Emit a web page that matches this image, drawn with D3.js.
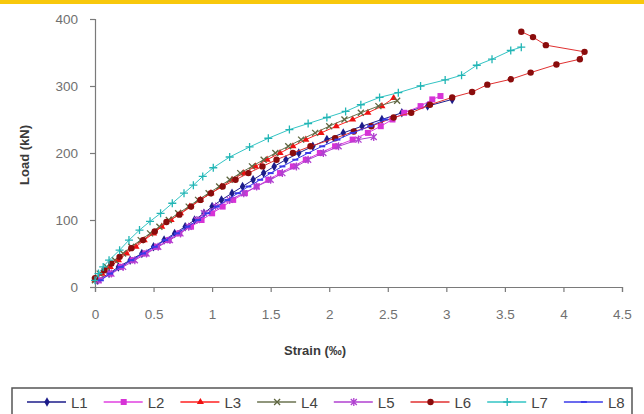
<!DOCTYPE html>
<html>
<head>
<meta charset="utf-8">
<script src="https://cdn.jsdelivr.net/npm/d3@7"></script>
<style>
  body { margin: 0; background: #fff; }
  svg { display: block; font-family: "Liberation Sans", Arial, sans-serif; }
</style>
</head>
<body>
<script>
// series data: [strain (‰), load (kN)]
var L1 = [[0.02,10],[0.12,20],[0.2,30],[0.3,40],[0.4,50],[0.5,60],[0.59,70],[0.68,80],[0.77,90],[0.85,100],[0.93,110],[1.0,120],[1.08,130],[1.17,140],[1.26,150],[1.35,160],[1.44,170],[1.53,180],[1.63,190],[1.74,200],[1.86,210],[1.98,220],[2.12,230],[2.28,240],[2.45,250],[2.62,260],[2.84,270],[3.05,280]];
var L2 = [[0.03,10],[0.13,20],[0.22,30],[0.32,40],[0.43,50],[0.53,60],[0.63,70],[0.72,80],[0.82,90],[0.91,100],[1.0,110],[1.09,120],[1.18,130],[1.28,140],[1.38,150],[1.48,160],[1.58,170],[1.69,180],[1.8,190],[1.92,200],[2.05,210],[2.2,220],[2.33,230],[2.44,240],[2.54,250],[2.64,260],[2.78,270],[2.88,280],[2.95,285]];
var L3 = [[0.0,10],[0.06,20],[0.13,30],[0.2,40],[0.27,50],[0.35,60],[0.42,70],[0.5,80],[0.57,90],[0.65,100],[0.73,110],[0.81,120],[0.9,130],[0.99,140],[1.08,150],[1.17,160],[1.27,170],[1.37,180],[1.47,190],[1.58,200],[1.69,210],[1.8,220],[1.93,230],[2.06,240],[2.2,250],[2.33,260],[2.45,270],[2.55,282]];
var L4 = [[0.0,10],[0.04,20],[0.1,30],[0.17,40],[0.24,50],[0.31,60],[0.39,70],[0.47,80],[0.55,90],[0.63,100],[0.71,110],[0.8,120],[0.88,130],[0.97,140],[1.06,150],[1.15,160],[1.24,170],[1.34,180],[1.44,190],[1.54,200],[1.65,210],[1.76,220],[1.88,230],[2.0,240],[2.13,250],[2.27,260],[2.42,270],[2.58,278]];
var L5 = [[0.03,10],[0.14,20],[0.24,30],[0.34,40],[0.44,50],[0.54,60],[0.64,70],[0.73,80],[0.8,90],[0.87,100],[0.93,110],[1.03,120],[1.15,130],[1.27,140],[1.38,150],[1.5,160],[1.6,170],[1.72,180],[1.82,190],[1.95,200],[2.08,210],[2.25,220],[2.38,224]];
var L6 = [[0.0,13],[0.08,25],[0.14,35],[0.21,45],[0.31,58],[0.41,70],[0.51,83],[0.61,97],[0.72,108],[0.82,120],[0.9,130],[0.99,140],[1.09,150],[1.2,160],[1.31,170],[1.43,180],[1.55,190],[1.69,200],[1.84,210],[2.05,222],[2.21,232],[2.36,240],[2.55,253],[2.7,260],[2.86,272],[3.05,283],[3.22,291],[3.35,302],[3.55,310],[3.72,320],[3.94,332],[4.14,340],[4.18,351],[3.85,361],[3.74,373],[3.64,381]];
var L7 = [[0.0,10],[0.03,20],[0.07,30],[0.12,40],[0.21,55],[0.29,70],[0.38,85],[0.47,98],[0.56,110],[0.66,125],[0.76,140],[0.84,152],[0.92,165],[1.01,178],[1.15,194],[1.32,209],[1.48,222],[1.66,235],[1.82,244],[1.98,253],[2.14,262],[2.27,272],[2.43,283],[2.59,290],[2.78,300],[2.99,309],[3.13,316],[3.26,331],[3.39,340],[3.55,353],[3.64,358]];
var L8 = [[0.05,10],[0.13,20],[0.22,30],[0.31,40],[0.41,50],[0.51,60],[0.6,70],[0.7,80],[0.79,90],[0.88,100],[0.96,110],[1.04,120],[1.13,130],[1.22,140],[1.31,150],[1.41,160],[1.5,170],[1.6,180],[1.71,190],[1.82,200],[1.94,210],[2.07,220],[2.2,230],[2.35,240],[2.48,250]];

var names = ["L1", "L2", "L3", "L4", "L5", "L6", "L7", "L8"];
var xTicks = [0, 0.5, 1, 1.5, 2, 2.5, 3, 3.5, 4, 4.5];
var yTicks = [0, 100, 200, 300, 400];

var series = [
  { name: names[0], data: L1, line: "#1c1c8a", fill: "#1c1c8a", mark: "diamond" },
  { name: names[1], data: L2, line: "#e040e0", fill: "#d633d6", mark: "square" },
  { name: names[2], data: L3, line: "#ff2020", fill: "#ee1111", mark: "triangle" },
  { name: names[3], data: L4, line: "#6b7350", fill: "#5f6640", mark: "x" },
  { name: names[4], data: L5, line: "#b040d0", fill: "#b040d0", mark: "star" },
  { name: names[5], data: L6, line: "#e03030", fill: "#8a0c0c", mark: "circle" },
  { name: names[6], data: L7, line: "#33c4c4", fill: "#22b5b5", mark: "plus" },
  { name: names[7], data: L8, line: "#3a3ae8", fill: "#3a3ae8", mark: "dash" }
];

var svg = d3.select("body").append("svg")
  .attr("width", 644)
  .attr("height", 414);

// yellow strip at the top
svg.append("rect").attr("x", 0).attr("y", 0).attr("width", 644).attr("height", 4).attr("fill", "#f8c80c");

var x = d3.scaleLinear().domain([0, 4.5]).range([95, 622]);
var y = d3.scaleLinear().domain([0, 400]).range([287, 19]);

// axes
var xAxis = svg.append("g")
  .attr("transform", "translate(0," + y(0) + ")")
  .call(d3.axisBottom(x).tickValues(xTicks).tickSize(5).tickPadding(17).tickFormat(d3.format("")));
var yAxis = svg.append("g")
  .attr("transform", "translate(" + x(0) + ",0)")
  .call(d3.axisLeft(y).tickValues(yTicks).tickSize(5).tickPadding(12));

[xAxis, yAxis].forEach(function(g) {
  g.select(".domain").attr("stroke", "#7a7a7a").attr("stroke-width", 1.2);
  g.selectAll(".tick line").attr("stroke", "#7a7a7a").attr("stroke-width", 1.2);
  g.selectAll(".tick text").attr("fill", "#707070").attr("font-size", 13.5);
});

// axis titles
svg.append("text")
  .attr("x", 284).attr("y", 355)
  .attr("font-size", 13).attr("font-weight", "bold").attr("fill", "#3a3a3a")
  .text("Strain (‰)");
svg.append("text")
  .attr("transform", "translate(29,155) rotate(-90)")
  .attr("text-anchor", "middle")
  .attr("font-size", 13).attr("font-weight", "bold").attr("fill", "#3a3a3a")
  .text("Load (kN)");

// marker drawing
function drawMarker(g, type, color) {
  if (type === "diamond") {
    g.append("path").attr("d", d3.symbol(d3.symbolDiamond, 26)()).attr("fill", color);
  } else if (type === "square") {
    g.append("rect").attr("x", -3).attr("y", -3).attr("width", 6).attr("height", 6).attr("fill", color);
  } else if (type === "triangle") {
    g.append("path").attr("d", d3.symbol(d3.symbolTriangle, 22)()).attr("fill", color);
  } else if (type === "circle") {
    g.append("circle").attr("r", 3.2).attr("fill", color);
  } else if (type === "x") {
    g.append("path").attr("d", "M-3,-3L3,3M-3,3L3,-3").attr("stroke", color).attr("stroke-width", 1.3);
  } else if (type === "star") {
    g.append("path").attr("d", "M-3,-3L3,3M-3,3L3,-3M0,-4L0,4").attr("stroke", color).attr("stroke-width", 1.3);
  } else if (type === "plus") {
    g.append("path").attr("d", "M-4,0L4,0M0,-4L0,4").attr("stroke", color).attr("stroke-width", 1.3);
  } else if (type === "dash") {
    g.append("path").attr("d", "M-3,0L3,0").attr("stroke", color).attr("stroke-width", 2);
  }
}

var line = d3.line()
  .x(function(d) { return x(d[0]); })
  .y(function(d) { return y(d[1]); });

var plot = svg.append("g");
series.forEach(function(s) {
  var g = plot.append("g");
  g.append("path")
    .attr("d", line(s.data))
    .attr("fill", "none")
    .attr("stroke", s.line)
    .attr("stroke-width", 1);
  g.selectAll("g.m")
    .data(s.data)
    .enter().append("g")
    .attr("class", "m")
    .attr("transform", function(d) { return "translate(" + x(d[0]) + "," + y(d[1]) + ")"; })
    .each(function() { drawMarker(d3.select(this), s.mark, s.fill); });
});

// legend
var legend = svg.append("g");
legend.append("rect")
  .attr("x", 12).attr("y", 388).attr("width", 620).attr("height", 40)
  .attr("fill", "#fff").attr("stroke", "#555").attr("stroke-width", 1.5);

var item = legend.selectAll("g.item")
  .data(series)
  .enter().append("g")
  .attr("class", "item")
  .attr("transform", function(d, i) { return "translate(" + (27 + i * 76.7) + ",402)"; });
item.append("line")
  .attr("x1", 0).attr("x2", 39).attr("y1", 0).attr("y2", 0)
  .attr("stroke", function(d) { return d.line; }).attr("stroke-width", 1.3);
item.append("g")
  .attr("transform", "translate(20,0)")
  .each(function(d) { drawMarker(d3.select(this), d.mark, d.fill); });
item.append("text")
  .attr("x", 44).attr("y", 5.5)
  .attr("font-family", "'Liberation Sans Narrow', 'Liberation Sans', sans-serif")
  .attr("font-size", 15).attr("fill", "#444")
  .text(function(d) { return d.name; });
</script>
</body>
</html>
